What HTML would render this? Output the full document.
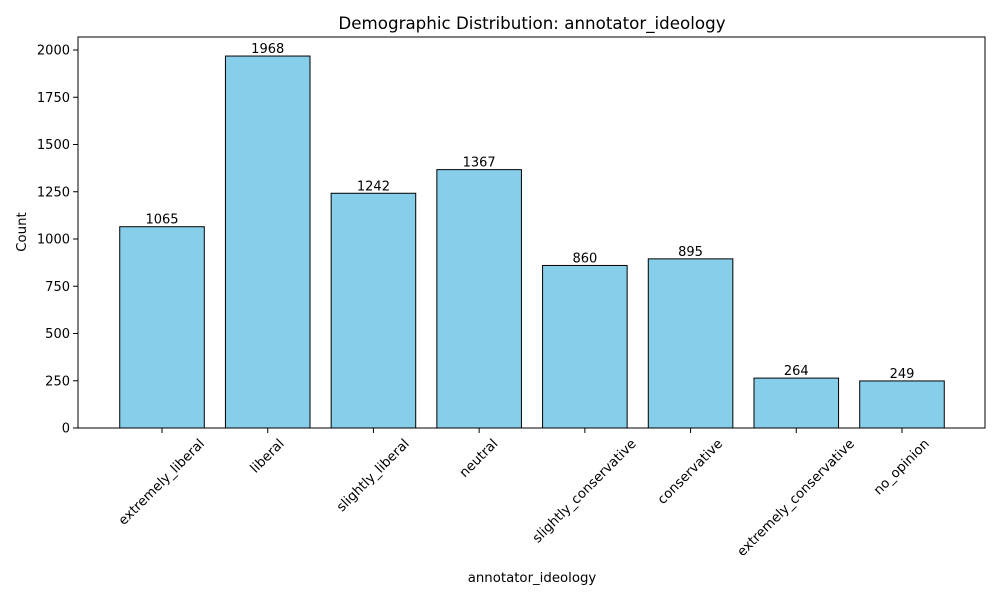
<!DOCTYPE html>
<html><head><meta charset="utf-8"><style>
body{margin:0;background:#fff}
svg{font-family:"DejaVu Sans","Liberation Sans",sans-serif}
</style></head><body>
<svg id="c" width="1000" height="600">
<rect width="1000" height="600" fill="#fff"/>
<text x="532" y="29" font-size="16.7" text-anchor="middle">Demographic Distribution: annotator_ideology</text>
<text x="532" y="582" font-size="13.3" text-anchor="middle">annotator_ideology</text>
<text transform="translate(26,232) rotate(-90)" font-size="13.3" text-anchor="middle">Count</text>
<g id="g"></g>
<rect x="78" y="37" width="907" height="391" fill="none" stroke="#000" stroke-width="1"/>
</svg>
<script>
const categories=["extremely_liberal","liberal","slightly_liberal","neutral","slightly_conservative","conservative","extremely_conservative","no_opinion"];
const counts=[1065,1968,1242,1367,860,895,264,249];
const yTicks=[0,250,500,750,1000,1250,1500,1750,2000];
const L=78,R=985,B=428,Y0=428,Y2000=50;
const xmin=-0.79,xmax=categories.length-1+0.79;
const xs=i=>L+0.5+(i-xmin)/(xmax-xmin)*(R-L);
const ys=v=>Y0+(Y2000-Y0)*v/2000;
const bw=0.8*(R-L)/(xmax-xmin);
const g=document.getElementById('g');
const NS="http://www.w3.org/2000/svg";
function mk(t,a){const e=document.createElementNS(NS,t);for(const k in a)e.setAttribute(k,a[k]);g.appendChild(e);return e;}
yTicks.forEach(v=>{
 const y=ys(v);
 const t=mk('line',{x1:L-5,x2:L,y1:y,y2:y,stroke:'#000'});
 
 
 const l=mk('text',{x:L-8,y:y+4.5,'font-size':13,'text-anchor':'end'});
 l.textContent=v;
 
 
});
categories.forEach((c,i)=>{
 const x=xs(i),v=counts[i];
 const b=mk('rect',{x:x-bw/2,y:ys(v),width:bw,height:B-ys(v),fill:'#87ceeb',stroke:'#000','stroke-width':1});
 
 
 const vl=mk('text',{x:x,y:ys(v)-3,'font-size':13,'text-anchor':'middle'});
 vl.textContent=v;
 
 
 const t=mk('line',{x1:x,x2:x,y1:B,y2:B+5,stroke:'#000'});
 
 
 const tl=mk('text',{x:0,y:0,'font-size':13.3,'text-anchor':'middle','dominant-baseline':'central'});
 tl.textContent=c;
 
 
 const len=tl.getComputedTextLength();
 const h=(len+14)*0.7071;
 tl.setAttribute('transform','translate('+x+','+(437+h/2)+') rotate(-45)');
});
</script>
</body></html>
